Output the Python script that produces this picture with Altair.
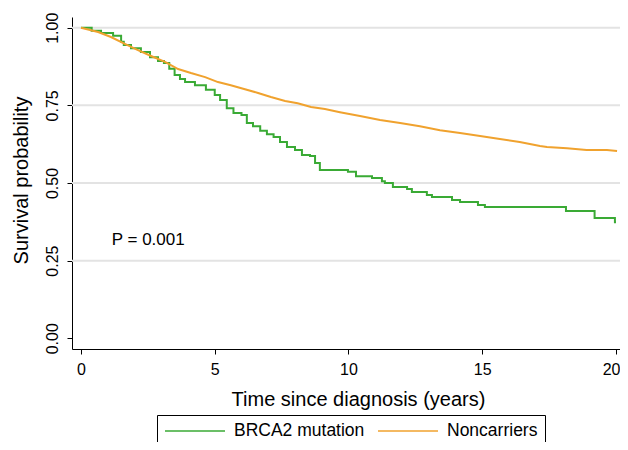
import altair as alt
import pandas as pd

# ---- data ----
groups = ["BRCA2 mutation", "Noncarriers"]
colors = ["#3aaa35", "#f0a22e"]

t_brca2 = [0, 0.4, 0.75, 1.2, 1.5, 1.6, 1.87, 2.24, 2.58, 2.88, 3.1, 3.3, 3.5, 3.7, 3.89,
           4.26, 4.67, 5.0, 5.2, 5.45, 5.7, 6.0, 6.2, 6.43, 6.7, 6.95, 7.2, 7.44, 7.7, 8.0,
           8.26, 8.56, 8.75, 8.93, 9.98, 10.28, 10.88, 11.25, 11.36, 11.66, 12.19, 12.37,
           12.93, 13.12, 13.87, 14.17, 14.84, 15.1, 18.13, 19.2, 19.96, 20.0]
s_brca2 = [1.0, 0.99, 0.983, 0.974, 0.955, 0.944, 0.934, 0.922, 0.905, 0.893, 0.886, 0.868,
           0.848, 0.835, 0.825, 0.815, 0.80, 0.783, 0.767, 0.741, 0.725, 0.719, 0.693, 0.683,
           0.668, 0.657, 0.648, 0.632, 0.616, 0.606, 0.590, 0.587, 0.564, 0.542, 0.536, 0.522,
           0.516, 0.506, 0.50, 0.487, 0.481, 0.471, 0.461, 0.455, 0.445, 0.439, 0.429, 0.423,
           0.41, 0.387, 0.374, 0.374]

t_non = [0, 0.64, 1.12, 1.64, 2.13, 2.62, 3.14, 3.63, 4.11, 4.64, 5.12, 5.6, 6.13, 6.62, 7.1,
         7.63, 8.1, 8.6, 9.12, 9.68, 10.43, 11.18, 11.93, 12.67, 13.42, 14.17, 14.92, 15.66,
         16.4, 17.16, 17.42, 18.17, 18.9, 19.66, 20.04]
s_non = [1.0, 0.986, 0.97, 0.948, 0.928, 0.909, 0.890, 0.867, 0.854, 0.841, 0.825, 0.815,
         0.802, 0.79, 0.777, 0.764, 0.757, 0.745, 0.738, 0.728, 0.716, 0.703, 0.693, 0.683,
         0.67, 0.661, 0.651, 0.642, 0.632, 0.619, 0.616, 0.612, 0.606, 0.606, 0.603]

x_ticks = [0, 5, 10, 15, 20]
y_ticks = [0, 0.25, 0.5, 0.75, 1.0]
grid_lines = [0.25, 0.5, 0.75, 1.0]
annotation = ["P = 0.001"]
annotation_t = [1.15]
annotation_s = [0.317]

df_g = pd.DataFrame({"t": t_brca2, "s": s_brca2, "group": groups[0]})
df_o = pd.DataFrame({"t": t_non, "s": s_non, "group": groups[1]})
df_grid = pd.DataFrame({"s": grid_lines})
df_txt = pd.DataFrame({"t": annotation_t, "s": annotation_s, "label": annotation})

FONT = "Liberation Sans"

x_enc = alt.X(
    "t:Q",
    scale=alt.Scale(domain=[-0.336, 20.15], nice=False, zero=False),
    axis=alt.Axis(values=x_ticks, title="Time since diagnosis (years)", format="d",
                  labelPadding=7, labelFlush=6, labelFlushOffset=4,
                  titleX=286, titleY=56, titleBaseline="alphabetic",
                  titleAlign="center"),
)
y_enc = alt.Y(
    "s:Q",
    scale=alt.Scale(domain=[-0.0345, 1.0345], nice=False, zero=False),
    axis=alt.Axis(values=y_ticks, format=".2f", title="Survival probability",
                  labelAngle=-90, labelAlign="center", labelBaseline="bottom",
                  labelPadding=7, titleX=-45, titleY=163, titleAngle=-90,
                  titleBaseline="alphabetic", titleAlign="center"),
)
color_enc = alt.Color(
    "group:N",
    scale=alt.Scale(domain=groups, range=colors),
    legend=alt.Legend(title=None, orient="none", legendX=85, legendY=398,
                      direction="horizontal", symbolType="stroke", symbolSize=3600,
                      clipHeight=18, symbolStrokeWidth=1.5, labelFontSize=17.5,
                      labelFont=FONT, labelColor="black", labelOffset=8,
                      columnPadding=12, padding=7, strokeColor="black",
                      fillColor="white"),
)

grid = alt.Chart(df_grid).mark_rule(color="#e3e3e3", strokeWidth=2).encode(y=y_enc)

line_g = alt.Chart(df_g).mark_line(strokeWidth=2, interpolate="step-after").encode(
    x=x_enc, y=y_enc, color=color_enc)
line_o = alt.Chart(df_o).mark_line(strokeWidth=2).encode(
    x=x_enc, y=y_enc, color=color_enc)

txt = alt.Chart(df_txt).mark_text(align="left", baseline="middle", fontSize=17,
                                  font=FONT, color="black").encode(
    x=x_enc, y=y_enc, text="label:N")

chart = alt.layer(grid, line_g, line_o, txt).properties(
    width=548, height=332,
    autosize=alt.AutoSizeParams(type="none"),
    padding={"left": 64, "top": 9, "right": 0, "bottom": 93},
).configure_view(stroke=None).configure_axis(
    grid=False, domainColor="black", domainWidth=1, tickColor="black", tickSize=5,
    tickWidth=1, labelFont=FONT, labelFontSize=16, labelColor="black",
    titleFont=FONT, titleFontSize=20, titleFontWeight="normal", titleColor="black",
)

chart.save("out.html", embed_options={"renderer": "svg", "actions": False})
